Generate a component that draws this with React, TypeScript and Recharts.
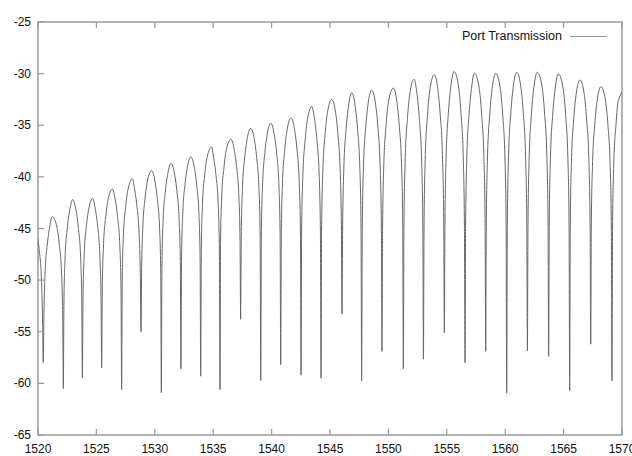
import { LineChart, Line, XAxis, YAxis, ReferenceArea } from "recharts";

const seriesName = "Port Transmission";

const xTicks = [1520, 1525, 1530, 1535, 1540, 1545, 1550, 1555, 1560, 1565, 1570];
const yTicks = [-65, -60, -55, -50, -45, -40, -35, -30, -25];

// notch minima (nm, dB)
const dipNm = [
    1520.45, 1522.17, 1523.8, 1525.45, 1527.16, 1528.82, 1530.56, 1532.24, 1533.93, 1535.58,
    1537.35, 1539.07, 1540.78, 1542.52, 1544.23, 1546.03, 1547.71, 1549.45, 1551.28, 1553.0,
    1554.79, 1556.56, 1558.33, 1560.13, 1561.9, 1563.72, 1565.52, 1567.32, 1569.14,
];
const dipDb = [
    -58.0, -60.5, -59.5, -58.5, -60.6, -55.0, -60.9, -58.6, -59.3, -60.6,
    -53.8, -59.75, -58.2, -59.2, -59.5, -53.3, -59.75, -56.9, -58.6, -57.65,
    -55.1, -58.0, -56.9, -60.95, -56.85, -57.4, -60.7, -56.2, -59.75,
];

// lobe tops; first and last belong to the lobes cut by the frame
const peakNm = [
    1519.6, 1521.22, 1522.97, 1524.68, 1526.36, 1528.08, 1529.73, 1531.39, 1533.07, 1534.87,
    1536.52, 1538.21, 1539.92, 1541.66, 1543.43, 1545.14, 1546.86, 1548.57, 1550.42, 1552.19,
    1553.93, 1555.62, 1557.36, 1559.19, 1560.99, 1562.75, 1564.55, 1566.4, 1568.2, 1570.5,
];
const peakDb = [
    -44.4, -43.85, -42.2, -42.07, -41.2, -40.2, -39.4, -38.7, -38.05, -37.1,
    -36.35, -35.3, -34.8, -34.3, -33.2, -32.5, -31.85, -31.6, -31.4, -30.55,
    -30.1, -29.8, -29.97, -29.97, -29.87, -29.87, -30.03, -30.6, -31.26, -31.2,
];

const flankNm = [0.05, 0.15, 0.35, 0.55];
const flankDrop = [10, 5.6, 2.65, 1.0];

// the upper lobes are narrower
const sharp = (p: number) => (p > -36 ? 1 + (p + 36) * 0.08 : 1);

const data: { nm: number; db: number }[] = [{ nm: peakNm[0], db: peakDb[0] }];
dipNm.forEach((d, i) => {
    const pl = peakDb[i];
    const pr = peakDb[i + 1];
    for (let k = flankNm.length - 1; k >= 0; k--) {
        data.push({ nm: d - flankNm[k], db: pl - flankDrop[k] * sharp(pl) });
    }
    data.push({ nm: d, db: dipDb[i] });
    for (let k = 0; k < flankNm.length; k++) {
        data.push({ nm: d + flankNm[k], db: pr - flankDrop[k] * sharp(pr) });
    }
    data.push({ nm: peakNm[i + 1], db: pr });
});

const FRAME = "#999";
const FONT = "'Liberation Sans', Arial, sans-serif";

function BottomTick({ x, y, payload }: any) {
    return (
        <g>
            <line x1={x} x2={x} y1={y} y2={y - 6} stroke={FRAME} strokeWidth={1.2} />
            <text x={x} y={y + 18} textAnchor="middle" fontSize={12} fontFamily={FONT} fill="#111">
                {payload.value}
            </text>
        </g>
    );
}

function LeftTick({ x, y, payload }: any) {
    return (
        <g>
            <line x1={x} x2={x + 6} y1={y} y2={y} stroke={FRAME} strokeWidth={1.2} />
            <text x={x - 7} y={y + 4} textAnchor="end" fontSize={12} fontFamily={FONT} fill="#111">
                {payload.value}
            </text>
        </g>
    );
}

function TopTick({ x, y }: any) {
    return <line x1={x} x2={x} y1={y} y2={y + 6} stroke={FRAME} strokeWidth={1.2} />;
}

function RightTick({ x, y }: any) {
    return <line x1={x - 6} x2={x} y1={y} y2={y} stroke={FRAME} strokeWidth={1.2} />;
}

export default function App() {
    return (
        <div style={{ position: "absolute", left: 0, top: 0, width: 632, height: 456, background: "#fff" }}>
            <LineChart width={632} height={456} data={data} margin={{ top: 21, right: 9, bottom: 0, left: 0 }}>
                <XAxis
                    dataKey="nm"
                    type="number"
                    domain={[1520, 1570]}
                    ticks={xTicks}
                    interval={0}
                    allowDataOverflow
                    height={21}
                    tickSize={0}
                    tickMargin={0}
                    axisLine={false}
                    tickLine={false}
                    tick={<BottomTick />}
                />
                <XAxis
                    xAxisId="top"
                    orientation="top"
                    dataKey="nm"
                    type="number"
                    domain={[1520, 1570]}
                    ticks={xTicks}
                    interval={0}
                    allowDataOverflow
                    height={1}
                    tickSize={0}
                    tickMargin={0}
                    axisLine={false}
                    tickLine={false}
                    tick={<TopTick />}
                />
                <YAxis
                    type="number"
                    domain={[-65, -25]}
                    ticks={yTicks}
                    interval={0}
                    allowDataOverflow
                    width={38}
                    tickSize={0}
                    tickMargin={0}
                    axisLine={false}
                    tickLine={false}
                    tick={<LeftTick />}
                />
                <YAxis
                    yAxisId="right"
                    orientation="right"
                    type="number"
                    domain={[-65, -25]}
                    ticks={yTicks}
                    interval={0}
                    width={1}
                    tickSize={0}
                    tickMargin={0}
                    axisLine={false}
                    tickLine={false}
                    tick={<RightTick />}
                />
                <ReferenceArea
                    x1={1520}
                    x2={1570}
                    y1={-65}
                    y2={-25}
                    fill="none"
                    stroke={FRAME}
                    strokeWidth={1.5}
                    ifOverflow="visible"
                />
                <Line
                    type="monotone"
                    dataKey="db"
                    name={seriesName}
                    stroke="#666"
                    strokeWidth={1}
                    dot={false}
                    isAnimationActive={false}
                />
            </LineChart>
            <div
                style={{
                    position: "absolute",
                    top: 29,
                    right: 25,
                    display: "flex",
                    alignItems: "center",
                    fontFamily: FONT,
                    fontSize: 12.5,
                    color: "#111",
                }}
            >
                <span>{seriesName}</span>
                <span style={{ display: "inline-block", width: 37, height: 0, borderTop: `1.5px solid ${FRAME}`, marginLeft: 8 }} />
            </div>
        </div>
    );
}
